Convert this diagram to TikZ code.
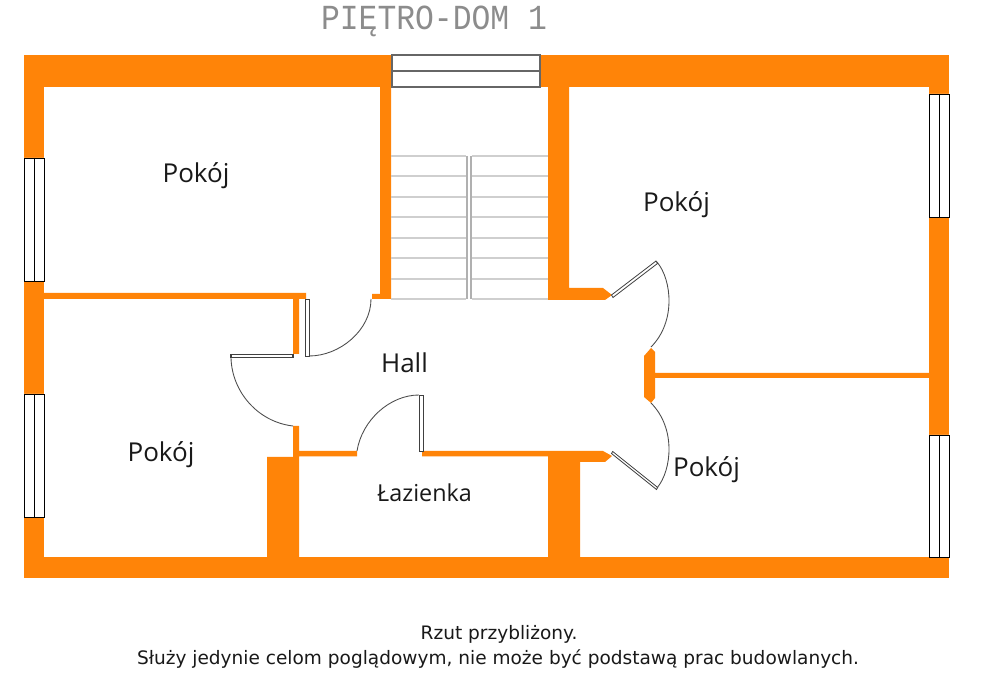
\documentclass[tikz,border=0pt]{standalone}
\usepackage{fontspec}
\setmainfont{Open Sans}
\newfontfamily\capfont{DejaVu Sans}
\newfontfamily\titlefont{Liberation Mono}
\definecolor{wallc}{HTML}{FF8408}
\definecolor{stairc}{HTML}{CFCFCF}
\definecolor{stairv}{HTML}{B0B0B0}
\definecolor{frameg}{HTML}{666666}
\tikzset{
  x=0.75pt,y=-0.75pt,
  wall/.style={fill=wallc,draw=none},
  win/.style={fill=white,draw=black,line width=0.6pt},
  topwin/.style={fill=white,draw=frameg,line width=1pt},
  leaf/.style={fill=white,draw=black!75,line width=0.6pt},
  swing/.style={draw=black!70,line width=0.65pt},
  tread/.style={draw=stairc,line width=1pt},
  rail/.style={draw=stairv,line width=0.8pt},
  room/.style={inner sep=0pt,font=\fontsize{19.5}{22}\selectfont,text=black!90},
  note/.style={inner sep=0pt,font=\capfont\fontsize{13.9}{16}\selectfont,text=black!90},
}
\begin{document}
\begin{tikzpicture}
\useasboundingbox[fill=white] (0,0) rectangle (1004,695);
% outer walls
\fill[wall] (24,55) rectangle (392,87);
\fill[wall] (540,55) rectangle (949,87);
\fill[wall] (24,557) rectangle (949,578);
\fill[wall] (24,55) rectangle (44,158);
\fill[wall] (24,281) rectangle (44,394);
\fill[wall] (24,517) rectangle (44,578);
\fill[wall] (929,55) rectangle (949,94);
\fill[wall] (929,217) rectangle (949,435);
\fill[wall] (929,557) rectangle (949,578);
% inner walls
\fill[wall] (380,87) -- (391,87) -- (391,299) -- (372,299) -- (372,294) -- (380,294) -- cycle;
\fill[wall] (548,87) -- (569,87) -- (569,288) -- (603,288) -- (612,295) -- (605,300) -- (548,300) -- cycle;
\fill[wall] (44,293) -- (306,293) -- (306,299) -- (299,299) -- (299,354) -- (293,354) -- (293,299) -- (44,299) -- cycle;
\fill[wall] (644,356) -- (651,348) -- (655,352) -- (655,373) -- (929,373) -- (929,378) -- (655,378) -- (655,398) -- (651,403) -- (644,397) -- cycle;
\fill[wall] (293,426) -- (299,426) -- (299,451) -- (357,451) -- (357,456.5) -- (299,456.5) -- (299,557) -- (267,557) -- (267,457) -- (293,457) -- cycle;
\fill[wall] (422,451) -- (603,451) -- (612,456) -- (605,462) -- (580,462) -- (580,557) -- (548,557) -- (548,456.5) -- (422,456.5) -- cycle;
% side windows
\draw[win] (24,158) rectangle (44,281) (34,158) -- (34,281);
\draw[win] (24,394) rectangle (44,517) (34,394) -- (34,517);
\draw[win] (929,94) rectangle (949,217) (939,94) -- (939,217);
\draw[win] (929,435) rectangle (949,557) (939,435) -- (939,557);
% top window
\draw[topwin] (392,55) rectangle (540,87) (392,71) -- (540,71);
% stairs
\foreach \yy in {156,176,197,217,238,258,279,299} {
  \draw[tread] (391,\yy) -- (466,\yy);
  \draw[tread] (472,\yy) -- (548,\yy);
}
\draw[rail] (467,156) -- (467,299);
\draw[rail] (471,156) -- (471,299);
% doors
\draw[leaf] (305.5,299) rectangle (309,356);
\draw[swing] (309,356) .. controls (340,356) and (371,330) .. (371,299);
\draw[leaf,line width=0.9pt] (231,354.5) rectangle (293,357.5);
\draw[swing] (231,358) .. controls (232,392) and (258,422) .. (293,426);
\draw[leaf] (419.5,395) rectangle (423,451);
\draw[swing] (419,395) .. controls (390,395) and (362,420) .. (357,451);
\draw[leaf] (656,261) -- (657.5,263.5) -- (613,297.5) -- (611.5,295) -- cycle;
\draw[swing] (657,262) .. controls (672,280) and (676,322) .. (651,347);
\draw[leaf] (612.7,451.5) -- (657.7,487.5) -- (656.5,489.5) -- (611.5,453.5) -- cycle;
\draw[swing] (651,403) .. controls (676,428) and (672,470) .. (657,488);
% labels
\node[room] (r1) at (196,176) {Pokój};
\node[room] (r2) at (676.5,205) {Pokój};
\node[room] (r3) at (161,455) {Pokój};
\node[room] (r4) at (706.5,470) {Pokój};
\node[room] (hall) at (404.5,363) {Hall};
\node[room,font=\fontsize{17.5}{20}\selectfont] (bath) at (424.5,493) {Łazienka};
\node[inner sep=0pt,text=black!45,font=\titlefont\fontsize{24}{26}\selectfont,anchor=base,xscale=0.98,yscale=1.1] (title) at (434,30) {PIĘTRO-DOM 1};
\node[note,anchor=base] (n1) at (499,639) {Rzut przybliżony.};
\node[note,anchor=base] (n2) at (498,664) {Służy jedynie celom poglądowym, nie może być podstawą prac budowlanych.};
\end{tikzpicture}
\end{document}
